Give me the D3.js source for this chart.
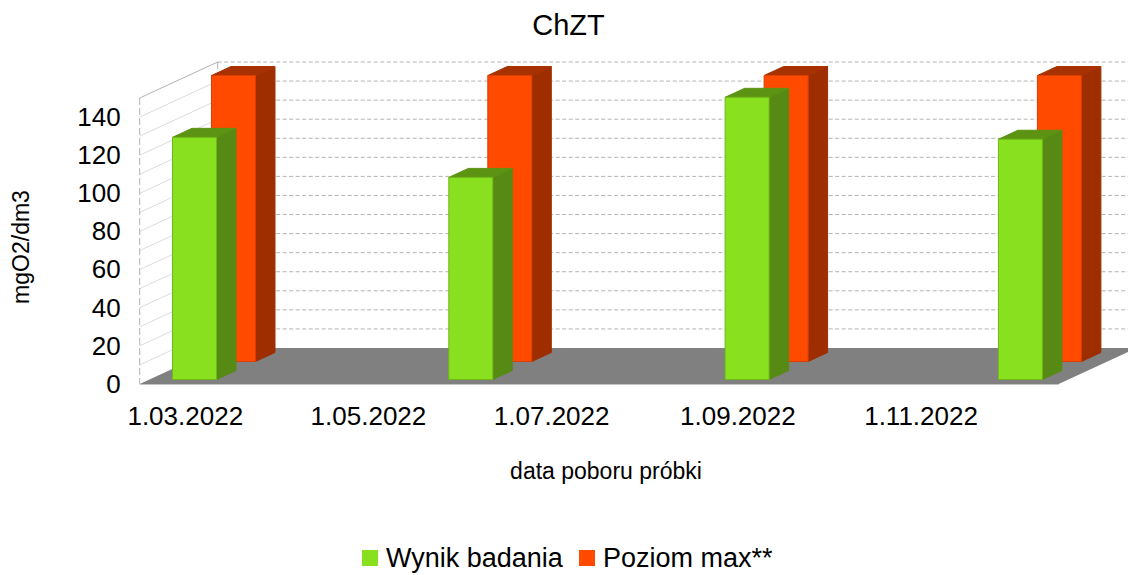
<!DOCTYPE html>
<html lang="en">
<head>
<meta charset="UTF-8">
<title>ChZT</title>
<script src="https://d3js.org/d3.v7.min.js"></script>
<style>
    body { margin: 0; background: #fff; font-family: "Liberation Sans", Arial, sans-serif; }
    svg { display: block; }
    text { fill: #000; }
</style>
</head>
<body>
<script>
// Data
const dates = ["2022-03-01", "2022-06-01", "2022-09-01", "2022-12-01"];
const wynik = [127, 106, 148, 126];
const poziom = [150, 150, 150, 150];
const seriesNames = ["Wynik badania", "Poziom max**"];
const seriesValues = [wynik, poziom];
const yTicks = [0, 20, 40, 60, 80, 100, 120, 140];
const gridValues = d3.range(0, 151, 10);

const colors = [
    { front: "#89e01e", side: "#568a14", top: "#5c9313", line: "#6fb818" },
    { front: "#ff4a00", side: "#9e2e00", top: "#a83100", line: "#d93f00" }
];

const width = 1128, height = 575;
const left = 139.7, right = 1058.7, bottom = 384;
const depthX = 78, depthY = 36;

const parse = d3.utcParse("%Y-%m-%d");
const x = d3.scaleUtc()
    .domain([parse("2022-02-14"), parse("2022-12-17")])
    .range([left, right]);
const y = d3.scaleLinear().domain([0, 150]).range([bottom, 98]);
// position inside the depth of the box, one slot per series
const depth = d3.scaleBand().domain(d3.range(2)).range([0, 1]).paddingInner(0.5).paddingOuter(0.25);
const barWidth = 44;

const svg = d3.select("body").append("svg").attr("width", width).attr("height", height);
const pts = a => a.map(p => p.join(",")).join(" ");

// walls
const grid = svg.append("g").attr("fill", "none");
grid.selectAll(".side").data(gridValues.slice(1, -1)).join("line")
    .attr("x1", left).attr("x2", left + depthX)
    .attr("y1", d => y(d)).attr("y2", d => y(d) - depthY)
    .attr("stroke", "#dcdcdc");
grid.selectAll(".back").data(gridValues.slice(1)).join("line")
    .attr("x1", left + depthX).attr("x2", right + depthX)
    .attr("y1", d => y(d) - depthY).attr("y2", d => y(d) - depthY)
    .attr("stroke", "#b3b3b3").attr("stroke-dasharray", "4,2.5");
grid.append("line").attr("x1", left).attr("x2", left).attr("y1", y(150)).attr("y2", y(0))
    .attr("stroke", "#b3b3b3").attr("stroke-dasharray", "7,3");
grid.append("line").attr("x1", left + depthX).attr("x2", left + depthX).attr("y1", y(150) - depthY).attr("y2", y(0) - depthY)
    .attr("stroke", "#b3b3b3").attr("stroke-dasharray", "7,3");
grid.append("line").attr("x1", left).attr("x2", left + depthX).attr("y1", y(150)).attr("y2", y(150) - depthY)
    .attr("stroke", "#b3b3b3");

// floor
svg.append("polygon")
    .attr("points", pts([[left, bottom], [left + depthX, bottom - depthY], [right + depthX, bottom - depthY], [right, bottom]]))
    .attr("fill", "#808080");
svg.append("line").attr("x1", left).attr("x2", right).attr("y1", bottom + 0.5).attr("y2", bottom + 0.5)
    .attr("stroke", "#c4c4c4");

// bars, back series first
[1, 0].forEach(s => {
    const c = colors[s];
    const d0 = depth(s), d1 = d0 + depth.bandwidth();
    const g = svg.append("g").selectAll("g").data(seriesValues[s]).join("g")
        .attr("stroke-linejoin", "round");
    const xl = (d, i) => x(parse(dates[i])) - barWidth / 2 + d0 * depthX;
    const yb = bottom - d0 * depthY;
    const dx = (d1 - d0) * depthX, dy = (d1 - d0) * depthY;
    const h = d => y(0) - y(d);
    g.append("polygon").attr("fill", c.side).attr("stroke", c.side)
        .attr("points", (d, i) => pts([
            [xl(d, i) + barWidth, yb], [xl(d, i) + barWidth, yb - h(d)],
            [xl(d, i) + barWidth + dx, yb - h(d) - dy], [xl(d, i) + barWidth + dx, yb - dy]]));
    g.append("polygon").attr("fill", c.top).attr("stroke", c.top)
        .attr("points", (d, i) => pts([
            [xl(d, i), yb - h(d)], [xl(d, i) + barWidth, yb - h(d)],
            [xl(d, i) + barWidth + dx, yb - h(d) - dy], [xl(d, i) + dx, yb - h(d) - dy]]));
    g.append("rect").attr("fill", c.front).attr("stroke", c.line)
        .attr("x", xl).attr("y", d => yb - h(d))
        .attr("width", barWidth).attr("height", h);
});

// axes
const yAxis = svg.append("g").attr("transform", `translate(${left - 19},0)`)
    .call(d3.axisLeft(y).tickValues(yTicks).tickSize(0).tickPadding(0));
yAxis.select(".domain").remove();
yAxis.selectAll("text").attr("font-family", "Liberation Sans").attr("font-size", 26).attr("fill", "#000");

const xAxis = svg.append("g").attr("transform", `translate(0,${bottom + 23})`)
    .call(d3.axisBottom(x).ticks(d3.utcMonth.every(2)).tickFormat(d3.utcFormat("%-d.%m.%Y")).tickSize(0).tickPadding(0));
xAxis.select(".domain").remove();
xAxis.selectAll("text").attr("font-family", "Liberation Sans").attr("font-size", 26).attr("fill", "#000");

// titles
svg.append("text").attr("x", 568.5).attr("y", 35).attr("text-anchor", "middle").attr("font-size", 29).text("ChZT");
svg.append("text").attr("x", 606).attr("y", 479).attr("text-anchor", "middle").attr("font-size", 23).text("data poboru próbki");
svg.append("text").attr("transform", "translate(29,247) rotate(-90)").attr("text-anchor", "middle").attr("font-size", 23).text("mgO2/dm3");

// legend
const legendX = [362, 579];
const legend = svg.append("g").selectAll("g").data(seriesNames).join("g")
    .attr("transform", (d, i) => `translate(${legendX[i]},550)`);
legend.append("rect").attr("width", 16).attr("height", 16).attr("fill", (d, i) => colors[i].front);
legend.append("text").attr("x", 24).attr("y", 17).attr("font-size", 27).text(d => d);
</script>
</body>
</html>
